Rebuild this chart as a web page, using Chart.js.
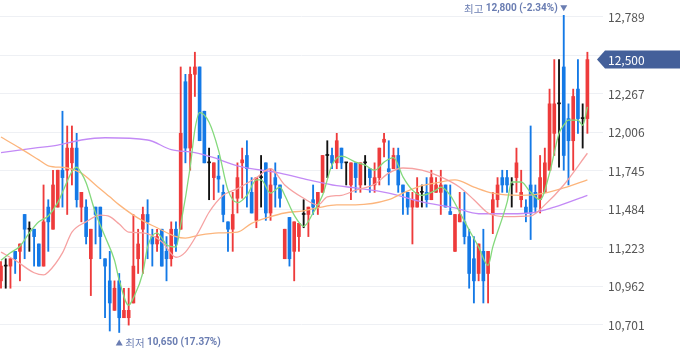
<!DOCTYPE html>
<html lang="ko">
<head>
<meta charset="utf-8">
<title>주가 차트</title>
<script src="https://cdn.jsdelivr.net/npm/chart.js@4.4.1/dist/chart.umd.min.js"></script>
<style>
  html, body { margin: 0; padding: 0; background: #fff; }
  #wrap { width: 680px; height: 358px; }
</style>
</head>
<body>
<div id="wrap"><canvas id="chart" width="680" height="358"></canvas></div>
<script>
// ===================================================
// DATA - daily candles
// ===================================================

const opens = [
  11000, 11100, 11100, 11200, 11200, 11450, 11350, 11350, 11250, 11100,
  11500, 11350, 11500, 11750, 11750, 11800, 11900, 11500, 11500, 11150,
  11500, 11500, 11150, 11000, 10800, 11000, 10750, 10750, 10850, 11150,
  11350, 11450, 11300, 11250, 11350, 11200, 11150, 11350, 11350, 12350,
  11900, 12400, 12450, 12150, 11800, 11700, 11710, 11600, 11400, 11350,
  11560, 11800, 11850, 11600, 11410, 11700, 11800, 11460, 11700, 11650,
  11150, 11430, 11200, 11300, 11450, 11450, 11550, 11500, 11600, 11850,
  11850, 11800, 11900, 11800, 11650, 11800, 11650, 11800, 11760, 11650,
  11700, 11940, 11760, 11760, 11850, 11650, 11600, 11500, 11500, 11600,
  11600, 11550, 11600, 11600, 11650, 11470, 11200, 11400, 11400, 11300,
  11150, 11050, 11200, 11050, 11450, 11550, 11700, 11700, 11650, 11700,
  11550, 11500, 11650, 11600, 11550, 11600, 11750, 12000, 12200, 12450,
  12100, 11950, 12300, 12100, 12100
];
const highs = [
  11130, 11150, 11150, 11200, 11250, 11450, 11400, 11350, 11250, 11650,
  11550, 11750, 11750, 12150, 12050, 12050, 12000, 11600, 11550, 11350,
  11500, 11500, 11150, 11200, 11000, 11050, 10950, 10950, 11450, 11350,
  11500, 11550, 11350, 11350, 11350, 11300, 11400, 11400, 12450, 12400,
  12450, 12550, 12450, 12150, 11900, 11800, 11850, 11650, 11400, 11600,
  11800, 11900, 11950, 11700, 11700, 11850, 11800, 11760, 11800, 11650,
  11350, 11430, 11400, 11390, 11550, 11500, 11650, 11600, 11850, 11950,
  11900, 12000, 11900, 11800, 11800, 11800, 11800, 11850, 11760, 11800,
  11900, 12000, 11950, 11900, 11900, 11650, 11600, 11600, 11700, 11650,
  11700, 11750, 11700, 11750, 11650, 11650, 11450, 11600, 11600, 11350,
  11300, 11250, 11350, 11200, 11600, 11700, 11750, 11750, 11700, 11900,
  11750, 11550, 12050, 11650, 11850, 11900, 12300, 12500, 12500, 12800,
  12200, 12300, 12500, 12200, 12550
];
const lows = [
  10950, 10950, 10950, 11050, 11000, 11150, 11200, 11100, 11100, 11100,
  11200, 11350, 11500, 11500, 11450, 11650, 11500, 11400, 11250, 10900,
  11250, 11150, 10750, 10660, 10800, 10650, 10750, 10700, 10850, 11050,
  11050, 11150, 11100, 11200, 11100, 11000, 11100, 11200, 11350, 11800,
  11750, 12250, 11950, 11800, 11550, 11550, 11600, 11400, 11200, 11200,
  11460, 11560, 11500, 11460, 11360, 11500, 11410, 11410, 11500, 11500,
  11150, 11100, 11000, 11200, 11360, 11300, 11450, 11450, 11600, 11700,
  11760, 11760, 11760, 11650, 11550, 11600, 11600, 11650, 11600, 11600,
  11650, 11840, 11650, 11760, 11600, 11450, 11450, 11250, 11500, 11500,
  11500, 11550, 11600, 11450, 11500, 11450, 11200, 11400, 11250, 10950,
  10850, 11000, 10850, 10850, 11320, 11500, 11600, 11600, 11500, 11600,
  11500, 11400, 11280, 11460, 11460, 11600, 11750, 11850, 11770, 11750,
  11650, 11750, 12000, 11900, 12000
];
const closes = [
  11100, 11100, 11150, 11150, 11250, 11350, 11350, 11300, 11100, 11400,
  11400, 11650, 11750, 11700, 11900, 11900, 11550, 11600, 11300, 11350,
  11450, 11300, 11100, 10850, 10950, 10750, 10800, 10800, 11100, 11250,
  11450, 11400, 11250, 11300, 11100, 11150, 11350, 11250, 12000, 11900,
  12400, 12450, 11950, 11800, 11800, 11800, 11690, 11450, 11350, 11450,
  11700, 11820, 11760, 11460, 11700, 11700, 11460, 11650, 11650, 11560,
  11350, 11150, 11400, 11390, 11450, 11500, 11500, 11600, 11850, 11850,
  11800, 11950, 11800, 11800, 11800, 11700, 11800, 11800, 11700, 11700,
  11900, 11960, 11740, 11850, 11650, 11600, 11500, 11550, 11600, 11600,
  11550, 11700, 11650, 11650, 11500, 11450, 11450, 11450, 11300, 11050,
  11000, 11250, 11000, 11200, 11550, 11650, 11650, 11650, 11650, 11800,
  11600, 11460, 11460, 11500, 11700, 11800, 12200, 12200, 12200, 11850,
  11950, 12250, 12100, 12100, 12500
];

// Moving averages: candle index -> value
const ma5Idx = [0, 2, 4, 6, 8, 10, 12, 13, 15, 16, 17, 18, 20, 22, 24, 25, 27, 28, 30, 31,
  33, 34, 35, 37, 38, 40, 41, 42, 44, 46, 48, 50, 52, 54, 55, 57, 59, 60, 62, 64,
  66, 68, 70, 72, 75, 77, 79, 81, 83, 85, 87, 89, 92, 93, 95, 97, 99, 101, 103, 104,
  107, 108, 110, 112, 114, 116, 118, 119, 120, 122, 123, 124];
const ma5 = [11140, 11190, 11235, 11325, 11400, 11440, 11530, 11600, 11740, 11770, 11730, 11665, 11460, 11300, 11140, 11005, 10835, 10885, 11055, 11230,
  11325, 11290, 11245, 11230, 11380, 11770, 12025, 12140, 12075, 11885, 11615, 11530, 11580, 11685, 11685, 11595, 11635, 11580, 11445, 11370,
  11460, 11580, 11785, 11845, 11805, 11785, 11750, 11805, 11835, 11705, 11615, 11580, 11615, 11635, 11580, 11465, 11345, 11230, 11105, 11230,
  11530, 11670, 11670, 11600, 11550, 11730, 12000, 12055, 12090, 12090, 12055, 12180];

const ma20Idx = [0, 3, 7, 9, 10, 13, 15, 18, 21, 23, 25, 27, 30, 34, 37, 39, 42, 44, 47, 50,
  54, 57, 60, 64, 67, 69, 72, 75, 79, 82, 85, 89, 93, 97, 100, 103, 107, 112, 115, 119, 124];
const ma20 = [11195, 11140, 11055, 11040, 11060, 11190, 11330, 11400, 11445, 11435, 11385, 11330, 11325, 11265, 11160, 11195, 11345, 11465, 11580, 11625,
  11700, 11760, 11650, 11560, 11515, 11570, 11580, 11615, 11655, 11730, 11765, 11750, 11705, 11635, 11550, 11460, 11435, 11440, 11515, 11650, 11865];

const ma60Idx = [0, 4, 8, 10, 14, 17, 20, 23, 25, 29, 33, 37, 39, 42, 46, 50, 53, 57, 60, 64,
  67, 71, 75, 82, 85, 89, 93, 96, 100, 104, 110, 115, 119, 124];
const ma60 = [11975, 11900, 11820, 11780, 11765, 11730, 11650, 11570, 11515, 11425, 11360, 11300, 11290, 11310, 11325, 11330, 11390, 11435, 11460, 11475,
  11495, 11515, 11515, 11550, 11595, 11645, 11670, 11685, 11636, 11595, 11580, 11595, 11630, 11685];

const ma120Idx = [0, 7, 12, 17, 22, 31, 36, 41, 45, 50, 59, 65, 71, 75, 82, 89, 96, 101, 108, 112, 117, 124];
const ma120 = [11870, 11900, 11920, 11955, 11970, 11955, 11890, 11870, 11835, 11780, 11730, 11685, 11645, 11630, 11595, 11535, 11495, 11455, 11455, 11460, 11500, 11580];

const yTicks = [10701, 10962, 11223, 11484, 11745, 12006, 12267, 12528, 12789];

// ===================================================
// ESTILOS
// ===================================================

const UP = '#ee3b3b';
const DOWN = '#1479e6';
const FLAT = '#111111';
const LABEL = '#6a7db2';
const FONT = "'Noto Sans CJK KR', 'Noto Sans', sans-serif";
const NUM_FONT = "Roboto, 'Noto Sans', sans-serif";

function colorVela(i) {
  if (closes[i] > opens[i]) return UP;
  if (closes[i] < opens[i]) return DOWN;
  return FLAT;
}

function fmt(v) {
  return v.toLocaleString('en-US');
}

function puntos(xs, ys) {
  return xs.map((x, k) => ({ x: x, y: ys[k] }));
}

// ===================================================
// PLUGIN - high/low labels and price badge
// ===================================================

const marcasPlugin = {
  id: 'marcas',
  afterDraw(chart) {
    const { ctx } = chart;
    const xs = chart.scales.x;
    const ys = chart.scales.y;
    const last = closes[closes.length - 1];

    const maxH = Math.max(...highs);
    const iH = highs.indexOf(maxH);
    const minL = Math.min(...lows);
    const iL = lows.indexOf(minL);
    const pctH = ((last / maxH - 1) * 100).toFixed(2);
    const pctL = ((last / minL - 1) * 100).toFixed(2);

    ctx.save();
    ctx.fillStyle = LABEL;
    ctx.textBaseline = 'middle';

    // highest
    const hx = xs.getPixelForValue(iH);
    const hy = ys.getPixelForValue(maxH) - 7;
    ctx.beginPath();
    ctx.moveTo(hx - 3.5, hy - 3);
    ctx.lineTo(hx + 3.5, hy - 3);
    ctx.lineTo(hx, hy + 3);
    ctx.closePath();
    ctx.fill();
    const hTxtB = fmt(maxH) + ' (' + pctH + '%)';
    ctx.font = 'bold 10px ' + NUM_FONT;
    const wB = ctx.measureText(hTxtB).width;
    ctx.textAlign = 'right';
    ctx.fillText(hTxtB, hx - 6, hy + 0.5);
    ctx.font = '10.5px ' + FONT;
    ctx.fillText('최고 ', hx - 6 - wB, hy + 0.5);

    // lowest
    const lx = xs.getPixelForValue(iL);
    const ly = ys.getPixelForValue(minL) + 10;
    ctx.beginPath();
    ctx.moveTo(lx - 3.5, ly + 3);
    ctx.lineTo(lx + 3.5, ly + 3);
    ctx.lineTo(lx, ly - 3);
    ctx.closePath();
    ctx.fill();
    ctx.textAlign = 'left';
    ctx.font = '10.5px ' + FONT;
    const wN = ctx.measureText('최저 ').width;
    ctx.fillText('최저 ', lx + 6, ly + 0.5);
    ctx.font = 'bold 10px ' + NUM_FONT;
    ctx.fillText(fmt(minL) + ' (' + pctL + '%)', lx + 6 + wN, ly + 0.5);

    // current price badge
    const py = ys.getPixelForValue(last);
    const left = chart.chartArea.right - 6;
    ctx.fillStyle = '#44609a';
    ctx.beginPath();
    ctx.moveTo(left, py);
    ctx.lineTo(left + 8, py - 9);
    ctx.lineTo(chart.width, py - 9);
    ctx.lineTo(chart.width, py + 9);
    ctx.lineTo(left + 8, py + 9);
    ctx.closePath();
    ctx.fill();
    ctx.fillStyle = '#ffffff';
    ctx.font = '12px ' + FONT;
    ctx.textAlign = 'left';
    ctx.fillText(fmt(last), chart.chartArea.right + 5, py + 0.5);
    ctx.restore();
  }
};

// ===================================================
// CHART
// ===================================================

const idx = opens.map((_, i) => i);
const colores = idx.map(colorVela);

const ctxChart = document.getElementById('chart');
new Chart(ctxChart, {
  type: 'bar',
  data: {
    datasets: [
      { type: 'line', data: puntos(ma5Idx, ma5), borderColor: '#84d97c', borderWidth: 1.3, pointRadius: 0, cubicInterpolationMode: 'monotone', order: 1 },
      { type: 'line', data: puntos(ma20Idx, ma20), borderColor: '#f6a2a2', borderWidth: 1.3, pointRadius: 0, cubicInterpolationMode: 'monotone', order: 2 },
      { type: 'line', data: puntos(ma60Idx, ma60), borderColor: '#fcb57c', borderWidth: 1.3, pointRadius: 0, cubicInterpolationMode: 'monotone', order: 3 },
      { type: 'line', data: puntos(ma120Idx, ma120), borderColor: '#c38af6', borderWidth: 1.3, pointRadius: 0, cubicInterpolationMode: 'monotone', order: 4 },
      { data: idx.map(i => ({ x: i, y: [opens[i], closes[i]] })), backgroundColor: colores, barThickness: 3, minBarLength: 1, grouped: false, borderWidth: 0, order: 5 },
      { data: idx.map(i => ({ x: i, y: [lows[i], highs[i]] })), backgroundColor: colores, barThickness: 1.2, grouped: false, borderWidth: 0, order: 6 }
    ]
  },
  options: {
    responsive: false,
    animation: false,
    devicePixelRatio: 1,
    layout: { padding: 0 },
    plugins: { legend: { display: false }, tooltip: { enabled: false } },
    scales: {
      x: { type: 'linear', min: -0.21, max: 127.3, display: false, offset: false },
      y: {
        position: 'right',
        min: 10477,
        max: 12904,
        border: { display: false },
        grid: { color: '#eef0f4', drawTicks: false },
        ticks: { padding: 5, color: '#555555', font: { size: 12, family: FONT }, callback: v => fmt(v) },
        afterBuildTicks: s => { s.ticks = yTicks.map(v => ({ value: v })); },
        afterFit: s => { s.width = 77; s.paddingTop = 0; s.paddingBottom = 0; }
      }
    }
  },
  plugins: [marcasPlugin]
});
</script>
</body>
</html>
